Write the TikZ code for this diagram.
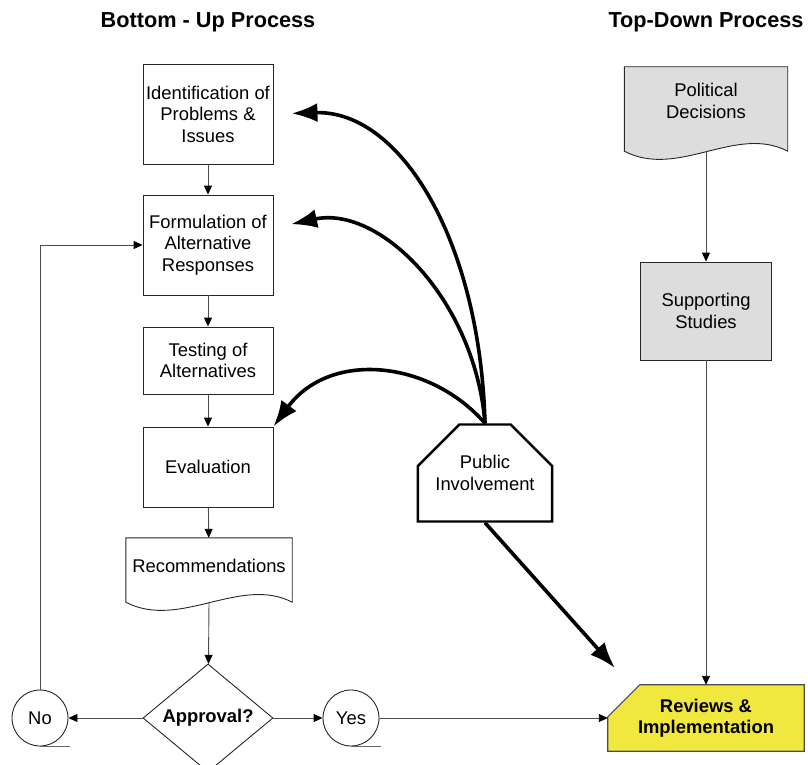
\documentclass[tikz,border=0pt]{standalone}
\usepackage{fontspec}
\setmainfont{Liberation Sans}
\usetikzlibrary{shapes.geometric,shapes.misc,arrows.meta,calc,backgrounds}
\definecolor{panel}{HTML}{DDDDDD}
\definecolor{marker}{HTML}{F0E83E}
\newcommand{\boxfont}{\fontsize{18.4}{21.5}\selectfont}
\newcommand{\titlefont}{\fontsize{21.7}{26}\selectfont\bfseries}

\begin{document}
\begin{tikzpicture}[x=1pt,y=-1pt,
    every node/.style={font=\boxfont},
    box/.style={draw=black!85,line width=0.9pt,minimum width=130pt,align=center,inner sep=0pt},
    docu/.style={align=center,inner sep=0pt},
    reel/.style={circle,draw=black!85,line width=0.9pt,minimum size=56pt,inner sep=0pt},
    link/.style={draw=black!70,line width=0.9pt,-{Triangle[length=9pt,width=8pt,color=black]}},
    push/.style={line width=3.6pt,-{Latex[length=26pt,width=19pt]}}]
    \useasboundingbox (0,0) rectangle (808,765);

    \node[font=\titlefont] (bu) at (208,22) {Bottom - Up Process};
    \node[font=\titlefont] (td) at (706,22) {Top-Down Process};

    % bottom-up column
    \node[box,minimum height=100pt] (idp) at (208,114) {Identification of\\Problems \&\\Issues};
    \node[box,minimum height=100pt] (far) at (208,245) {Formulation of\\Alternative\\Responses};
    \node[box,minimum height=67pt] (tst) at (208,360.5) {Testing of\\Alternatives};
    \node[box,minimum height=80pt] (evl) at (208,467) {Evaluation};
    \node[docu,minimum width=166pt,minimum height=56pt] (rec) at (209,566) {Recommendations};
    \node[diamond,draw=black!85,line width=0.9pt,minimum width=130pt,minimum height=96pt,inner sep=0pt,
        font=\boxfont\bfseries] (apv) at (208,718) {Approval?};
    \node[reel] (no) at (40,718) {No};
    \node[reel] (yes) at (351,718) {Yes};

    % top-down column
    \node[docu,minimum width=163pt,minimum height=68pt] (pol) at (706,101) {Political\\Decisions};
    \node[box,fill=panel,minimum width=131pt,minimum height=98pt] (sup) at (706,311) {Supporting\\Studies};
    \node[docu,minimum width=196pt,minimum height=66pt,font=\boxfont\bfseries] (rvw) at (706,718) {Reviews \&\\Implementation};

    \node[chamfered rectangle,chamfered rectangle corners={north west,north east},
        chamfered rectangle xsep=25pt,chamfered rectangle ysep=24pt,
        draw,line width=2.4pt,minimum width=131pt,minimum height=97pt,
        inner sep=0pt,align=center] (pub) at (485,473) {Public\\Involvement};

    % outlines drawn behind the texts
    \begin{scope}[on background layer]
        \draw[line width=0.9pt,draw=black!85] (rec.north west) -- (rec.north east) -- ($(rec.south east)+(0,8)$)
            .. controls +(-52,-27) and +(54,28) .. ($(rec.south west)+(0,8)$) -- cycle;
        \draw[line width=0.9pt,draw=black!85,fill=panel] (pol.north west) -- (pol.north east) -- ($(pol.south east)+(0,16)$)
            .. controls +(-52,-27) and +(54,28) .. ($(pol.south west)+(0,16)$) -- cycle;
        \draw[line width=1.2pt,draw=black!70,fill=marker] (rvw.south west) -- ($(rvw.north west)+(0,32)$)
            -- ($(rvw.north west)+(32,0)$) -- (rvw.north east) -- (rvw.south east) -- cycle;
    \end{scope}
    \coordinate (rec-b) at ($(rec.south)+(0,8)$);
    \coordinate (pol-b) at ($(pol.south)+(0,16)$);
    \coordinate (pubtip) at (615,668);

    \draw[link] (idp) -- (far);
    \draw[link] (far) -- (tst);
    \draw[link] (tst) -- (evl);
    \draw[link] (evl) -- (rec);
    \draw[link] (rec-b) -- (apv);
    \draw[link] (apv) -- (no);
    \draw[link] (apv) -- (yes);
    \draw[link] (yes) -- (rvw);
    \draw[link] (no) |- (far);
    \draw[link] (pol-b) -- (sup);
    \draw[link] (sup) -- (rvw);
    \draw[black!60,line width=1.2pt] (no.south) -- ++(30,0);
    \draw[black!60,line width=1.2pt] (yes.south) -- ++(30,0);

    \draw[push,shorten >=18pt] (pub.north) .. controls (480,240) and (400,110) .. (idp.east);
    \draw[push,shorten >=18pt] (pub.north) .. controls (475,300) and (380,205) .. ([yshift=17pt]far.east);
    \draw[push] (pub.north) .. controls (430,360) and (330,350) .. (evl.north east);
    \draw[push] (pub.south) -- (pubtip);
\end{tikzpicture}
\end{document}
